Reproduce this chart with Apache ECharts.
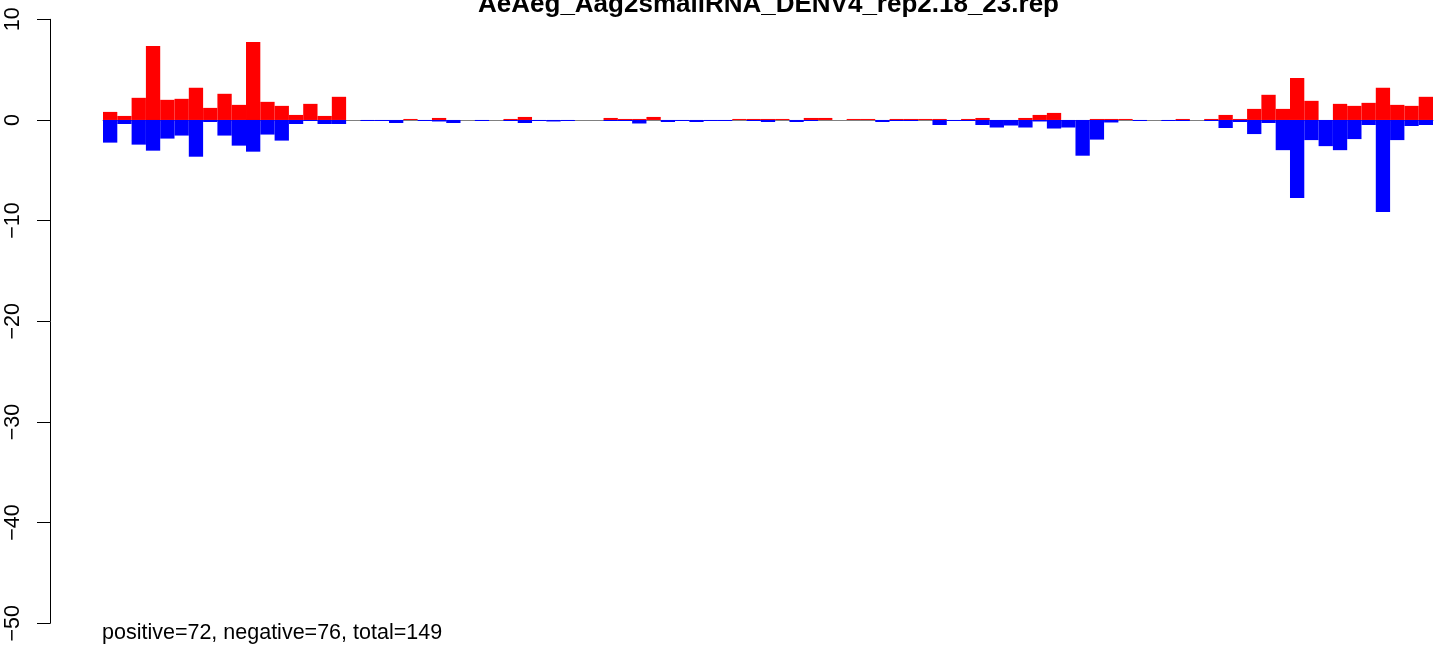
<!DOCTYPE html>
<html>
<head>
<meta charset="utf-8">
<script src="https://cdn.jsdelivr.net/npm/echarts@6/dist/echarts.min.js"></script>
<style>
html,body{margin:0;padding:0;background:#fff;}
#chart{width:1449px;height:650px;}
</style>
</head>
<body>
<div id="chart"></div>
<script>
const titleText = 'AeAeg_Aag2smallRNA_DENV4_rep2.18_23.rep';
const footText = 'positive=72, negative=76, total=149';
const yTicks = [-50, -40, -30, -20, -10, 0, 10];

const positiveValues = [
  0.8, 0.4, 2.2, 7.35, 2.0, 2.1, 3.2, 1.2, 2.6, 1.5,
  7.75, 1.8, 1.4, 0.5, 1.6, 0.4, 2.3, 0, 0, 0,
  0, 0.1, 0, 0.2, 0, 0, 0, 0, 0.1, 0.3,
  0, 0, 0, 0, 0, 0.2, 0.1, 0.1, 0.3, 0,
  0, 0, 0, 0, 0.1, 0.1, 0.1, 0.1, 0, 0.2,
  0.2, 0, 0.1, 0.1, 0, 0.1, 0.1, 0.1, 0.1, 0,
  0.1, 0.2, 0, 0, 0.2, 0.5, 0.7, 0, 0, 0.1,
  0.1, 0.1, 0, 0, 0, 0.1, 0, 0.1, 0.5, 0.1,
  1.1, 2.5, 1.1, 4.17, 1.9, 0, 1.6, 1.4, 1.7, 3.2,
  1.5, 1.4, 2.3
];
const negativeValues = [
  -2.25, -0.4, -2.45, -3.05, -1.85, -1.55, -3.65, -0.2, -1.55, -2.55,
  -3.15, -1.45, -2.05, -0.4, -0.1, -0.4, -0.4, 0, -0.1, -0.1,
  -0.3, 0, -0.1, -0.15, -0.3, 0, -0.1, 0, -0.1, -0.3,
  -0.1, -0.15, -0.1, 0, 0, -0.1, -0.1, -0.35, 0, -0.2,
  -0.1, -0.2, -0.1, -0.1, 0, -0.1, -0.2, 0, -0.2, -0.1,
  0, 0, 0, 0, -0.2, -0.1, -0.1, 0, -0.5, -0.1,
  -0.1, -0.5, -0.75, -0.55, -0.75, -0.15, -0.85, -0.75, -3.55, -1.95,
  -0.25, 0, -0.1, 0, -0.1, -0.1, 0, -0.1, -0.8, -0.2,
  -1.4, -0.3, -3.0, -7.75, -2.0, -2.6, -3.0, -1.9, -0.5, -9.15,
  -2.0, -0.6, -0.5
];
const categories = positiveValues.map((_, i) => String(i + 1));

const FONT = "'Liberation Sans', Arial, Helvetica, sans-serif";
const chart = echarts.init(document.getElementById('chart'), null, {renderer: 'canvas'});
chart.setOption({
  animation: false,
  backgroundColor: '#ffffff',
  grid: {left: 103, right: 16, top: 19.3, bottom: 26.7, containLabel: false},
  xAxis: {
    type: 'category',
    data: categories,
    boundaryGap: true,
    axisLine: {show: true, onZero: true, lineStyle: {color: '#808080', width: 1}},
    axisTick: {show: false},
    axisLabel: {show: false},
    splitLine: {show: false}
  },
  yAxis: {
    type: 'value',
    min: yTicks[0],
    max: yTicks[yTicks.length - 1],
    interval: 10,
    offset: 53,
    axisLine: {show: true, onZero: false, lineStyle: {color: '#000', width: 1}},
    axisTick: {show: true, length: 13, lineStyle: {color: '#000', width: 1}},
    axisLabel: {
      rotate: 90,
      margin: 26,
      fontSize: 21.5,
      fontFamily: FONT,
      color: '#000',
      formatter: v => String(v).replace('-', '\u2212')
    },
    splitLine: {show: false}
  },
  series: [
    {
      type: 'bar',
      data: positiveValues,
      barCategoryGap: '0%',
      barGap: '-100%',
      itemStyle: {color: '#ff0000'},
      z: 3
    },
    {
      type: 'bar',
      data: negativeValues,
      barCategoryGap: '0%',
      barGap: '-100%',
      itemStyle: {color: '#0000ff'},
      z: 3
    }
  ],
  graphic: [
    {
      type: 'text',
      x: 768.5,
      y: 5,
      style: {
        text: titleText,
        font: "bold 26px " + FONT,
        fill: '#000',
        textAlign: 'center',
        textVerticalAlign: 'middle',
        verticalAlign: 'middle'
      }
    },
    {
      type: 'text',
      x: 102,
      y: 633.5,
      style: {
        text: footText,
        font: "21.5px " + FONT,
        fill: '#000',
        textAlign: 'left',
        textVerticalAlign: 'middle',
        verticalAlign: 'middle'
      }
    }
  ]
});
</script>
</body>
</html>
